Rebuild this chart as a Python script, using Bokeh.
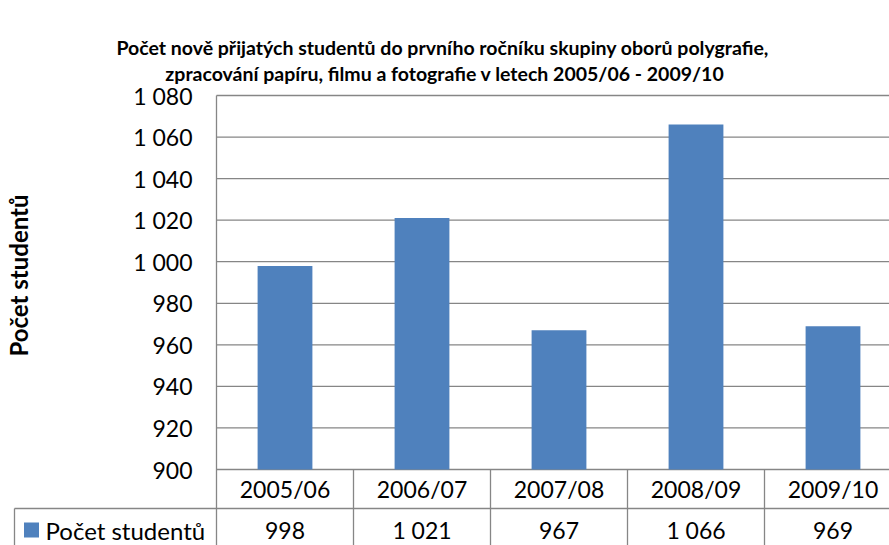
from bokeh.plotting import figure
from bokeh.models import Range1d, FixedTicker, LinearAxis
from bokeh.core.properties import value
from bokeh.embed import file_html
from bokeh.resources import INLINE
import numpy as np

# ---- data ----
categories = ["2005/06", "2006/07", "2007/08", "2008/09", "2009/10"]
students = [998, 1021, 967, 1066, 969]
series_name = "Počet studentů"
y_ticks = [900, 920, 940, 960, 980, 1000, 1020, 1040, 1060, 1080]
title_lines = ["Počet  nově přijatých studentů do prvního ročníku skupiny oborů polygrafie,",
               "zpracování papíru, filmu a fotografie v letech 2005/06 - 2009/10"]
y_label = "Počet studentů"

def fmt(v):
    return f"{v:,}".replace(",", " ")

BLUE = "#4F81BD"
GRID = "#868686"
FONT = "Lato"
LW = 1.3

# ---- layout (canvas px) ----
W, H = 889, 545
axis_px = 216          # x of the value axis / first table column
col_px = 137.0         # width of one category column
base_px = 469          # canvas y of the axis minimum (table top)
ppu = 374.0 / 180.0    # pixels per value unit
row_px = 39.0          # height of a table row

def xd(px):            # canvas x -> data x
    return (px - axis_px) / col_px

def yd(py):            # canvas y -> data y
    return y_ticks[0] + (base_px - py) / ppu

x0r, x1r = xd(0), xd(W)
y0r, y1r = yd(H), yd(0)

n = len(categories)
xs = np.arange(n) + 0.5

p = figure(width=W, height=H, output_backend="svg", toolbar_location=None,
           x_range=Range1d(x0r, x1r), y_range=Range1d(y0r, y1r),
           x_axis_location=None, y_axis_location=None,
           min_border=0, min_border_left=0, min_border_right=0,
           min_border_top=0, min_border_bottom=0)
p.outline_line_color = None
p.xgrid.visible = False
p.ygrid.visible = False
p.background_fill_color = "white"
p.border_fill_color = "white"

# horizontal gridlines (value axis)
p.segment(x0=0, y0=y_ticks, x1=x1r + 1, y1=y_ticks, line_color=GRID, line_width=LW)

# value axis, fixed at the left edge of the category area
ax = LinearAxis(fixed_location=0)
ax.bounds = (y0r, y_ticks[-1])
ax.ticker = FixedTicker(ticks=y_ticks)
ax.major_label_overrides = {t: fmt(t) for t in y_ticks}
ax.major_label_text_font = FONT
ax.major_label_text_font_size = "23px"
ax.major_label_text_color = "black"
ax.major_tick_line_color = None
ax.major_tick_in = 0
ax.major_tick_out = 0
ax.minor_tick_line_color = None
ax.minor_tick_in = 0
ax.minor_tick_out = 0
ax.major_label_standoff = 24
ax.axis_line_color = GRID
ax.axis_line_width = LW
p.add_layout(ax, "left")

# axis title (rotated)
p.text(x=[xd(17.5)], y=[yd(275)], text=[y_label], angle=np.pi / 2,
       text_align="center", text_baseline="middle",
       text_font=value(FONT), text_font_style="bold", text_font_size="24px", text_color="black")

# bars
p.vbar(x=xs, top=students, bottom=y_ticks[0], width=0.4, fill_color=BLUE, line_color=None)

# title
title_cx = xd(444.5)
p.text(x=[title_cx, title_cx], y=[yd(47), yd(73)], text=title_lines,
       text_align="center", text_baseline="middle",
       text_font=value(FONT), text_font_style="bold", text_font_size="19.5px", text_color="black")

# ---- data table ----
row_b = yd(base_px + row_px)
legend_left = xd(14)
bounds = np.arange(1, n)
p.segment(x0=bounds, y0=y0r - 5, x1=bounds, y1=y_ticks[0], line_color=GRID, line_width=LW)
p.segment(x0=[legend_left], y0=[y0r - 5], x1=[legend_left], y1=[row_b], line_color=GRID, line_width=LW)
p.segment(x0=[legend_left], y0=[row_b], x1=[x1r + 1], y1=[row_b], line_color=GRID, line_width=LW)

row1_y = yd(base_px + row_px / 2)
row2_y = yd(529.5)
p.text(x=xs, y=row1_y, text=categories, text_align="center", text_baseline="middle",
       text_font=value(FONT), text_font_size="23px", text_color="black")
p.text(x=xs, y=row2_y, text=[fmt(v) for v in students], text_align="center", text_baseline="middle",
       text_font=value(FONT), text_font_size="23px", text_color="black")

p.scatter(x=[xd(31)], y=[row2_y], marker="square", size=15, fill_color=BLUE, line_color=None)
p.text(x=[xd(45)], y=[row2_y], text=[series_name], text_align="left", text_baseline="middle",
       text_font=value(FONT), text_font_size="24px", text_color="black")

open("out.html", "w").write(file_html(p, INLINE))
